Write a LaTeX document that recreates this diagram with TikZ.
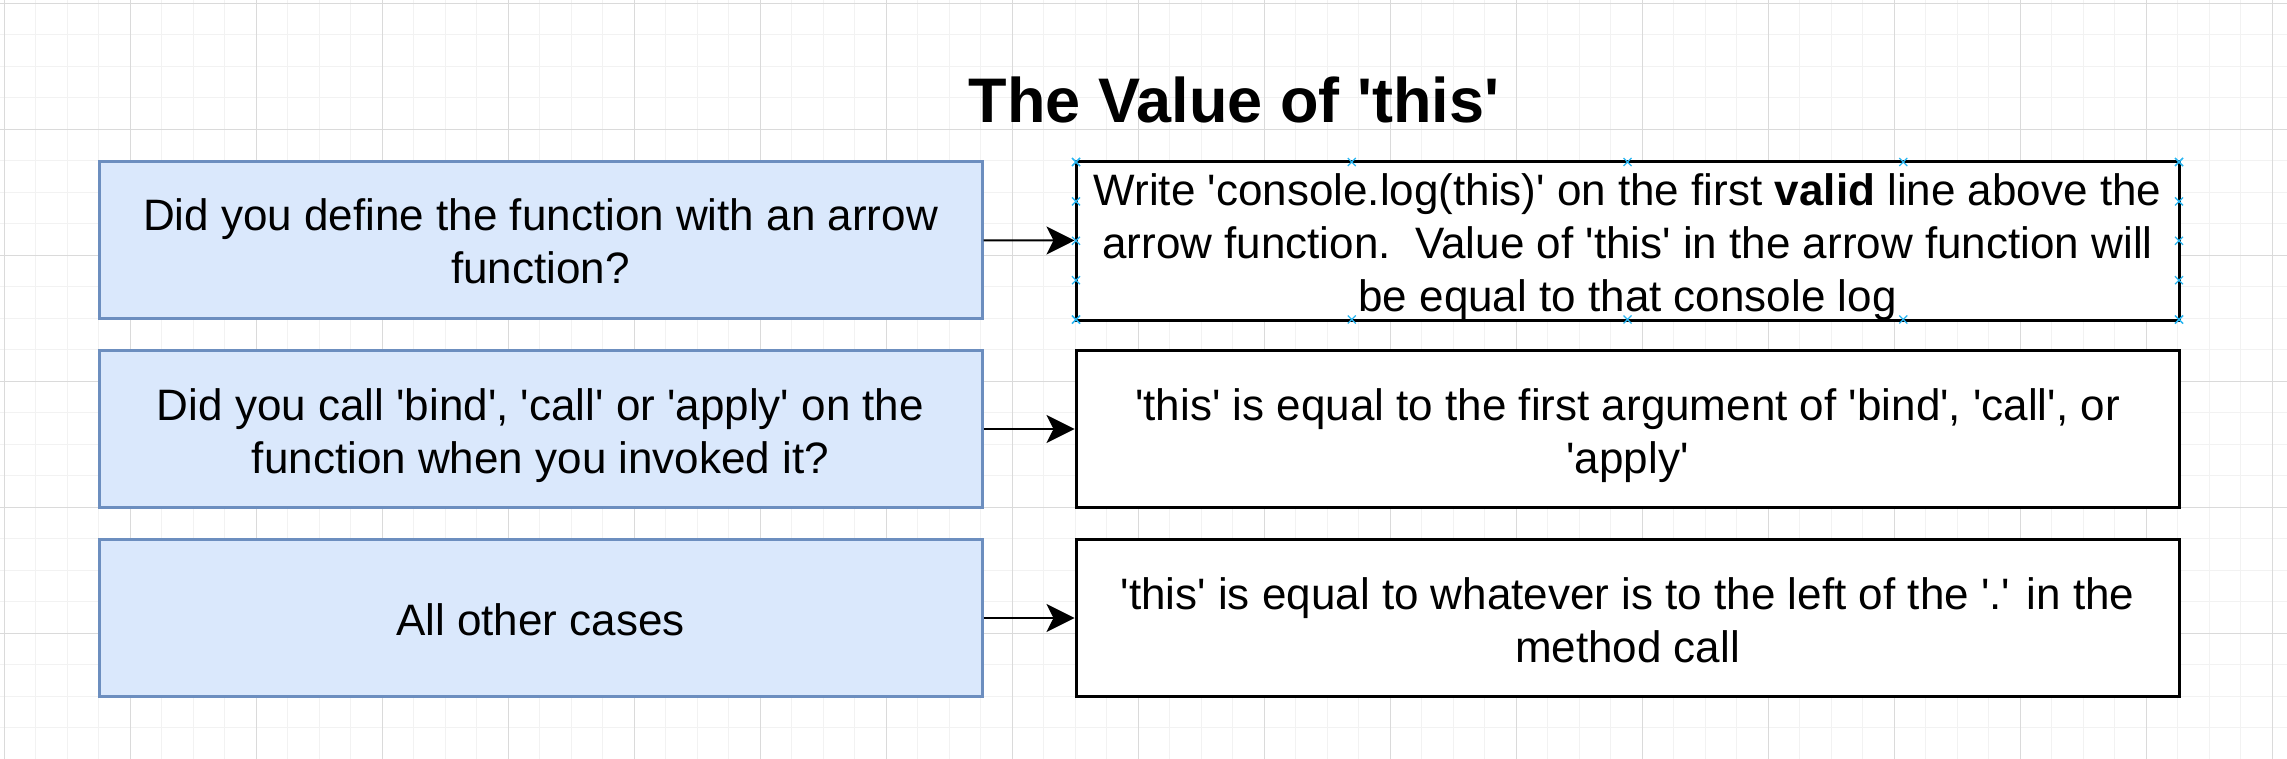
\documentclass[tikz,border=0pt]{standalone}
\usepackage{fontspec}
\setmainfont{Liberation Sans}[Ligatures=TeXOff]
\usetikzlibrary{arrows.meta, positioning}

\definecolor{qfill}{HTML}{DAE8FC}
\definecolor{qdraw}{HTML}{6C8EBF}
\definecolor{gridmajor}{HTML}{DADADA}
\definecolor{gridminor}{HTML}{F2F2F2}
\definecolor{handleblue}{HTML}{29B6F2}

\begin{document}
\begin{tikzpicture}[
    x=1pt, y=-1pt,
    question/.style={rectangle, draw=qdraw, fill=qfill, line width=3pt,
        minimum width=883pt, minimum height=157pt, inner sep=0pt,
        align=center, font=\fontsize{44}{53}\selectfont, text depth=9pt},
    answer/.style={rectangle, draw=black, fill=white, line width=3pt,
        minimum width=1103pt, minimum height=157pt, inner sep=0pt,
        align=center, font=\fontsize{44}{53}\selectfont, text depth=9pt},
    oneline/.style={text height=44pt},
    twolines/.style={text height=97pt},
    threelines/.style={text height=150pt},
    leadsto/.style={line width=2pt, -{Stealth[length=28pt, width=28pt, inset=7pt]}},
    minorline/.style={gridminor, line width=1pt},
    majorline/.style={gridmajor, line width=1pt},
    handle/.style={handleblue, line width=1.3pt}
]
    % background and grid
    \fill[white] (0,0) rectangle (2287,759);
    \useasboundingbox (0,0) rectangle (2287,759);
    \foreach \i in {0,...,72} \draw[minorline] ({4+31.5*\i},0) -- ({4+31.5*\i},759);
    \foreach \j in {0,...,24} \draw[minorline] (0,{3.3+31.5*\j}) -- (2287,{3.3+31.5*\j});
    \foreach \i in {0,...,18} \draw[majorline] ({4+126*\i},0) -- ({4+126*\i},759);
    \foreach \j in {0,...,6} \draw[majorline] (0,{3.3+126*\j}) -- (2287,{3.3+126*\j});

    % title
    \node[anchor=base, font=\fontsize{63}{75}\selectfont\bfseries] (title) at (1234,123) {The Value of 'this'};

    % questions
    \node[question, twolines] (q1) at (540.5,240) {Did you define the function with an arrow\\function?};
    \node[question, twolines] (q2) at (540.5,429) {Did you call 'bind', 'call' or 'apply' on the\\function when you invoked it?};
    \node[question, oneline] (q3) at (540.5,618) {All other cases};

    % answers
    \node[answer, threelines] (a1) at (1627.5,241) {Write 'console.log(this)' on the first \textbf{valid} line above the\\arrow function.\ \ Value of 'this' in the arrow function will\\be equal to that console log};
    \node[answer, twolines] (a2) at (1627.5,429) {'this' is equal to the first argument of 'bind', 'call', or\\'apply'};
    \node[answer, twolines] (a3) at (1627.5,618) {'this' is equal to whatever is to the left of the '.' in the\\method call};

    % arrows
    \draw[leadsto] (q1) -- (a1);
    \draw[leadsto] (q2) -- (a2);
    \draw[leadsto] (q3) -- (a3);

    % selection handles on the first answer
    \foreach \k in {0,...,4} {
        \draw[handle] ({1076+275.75*\k},162) +(-4,-4) -- +(4,4) +(-4,4) -- +(4,-4);
        \draw[handle] ({1076+275.75*\k},319.5) +(-4,-4) -- +(4,4) +(-4,4) -- +(4,-4);
        \draw[handle] (1076,{162+39.4*\k}) +(-4,-4) -- +(4,4) +(-4,4) -- +(4,-4);
        \draw[handle] (2179,{162+39.4*\k}) +(-4,-4) -- +(4,4) +(-4,4) -- +(4,-4);
    }
\end{tikzpicture}
\end{document}
